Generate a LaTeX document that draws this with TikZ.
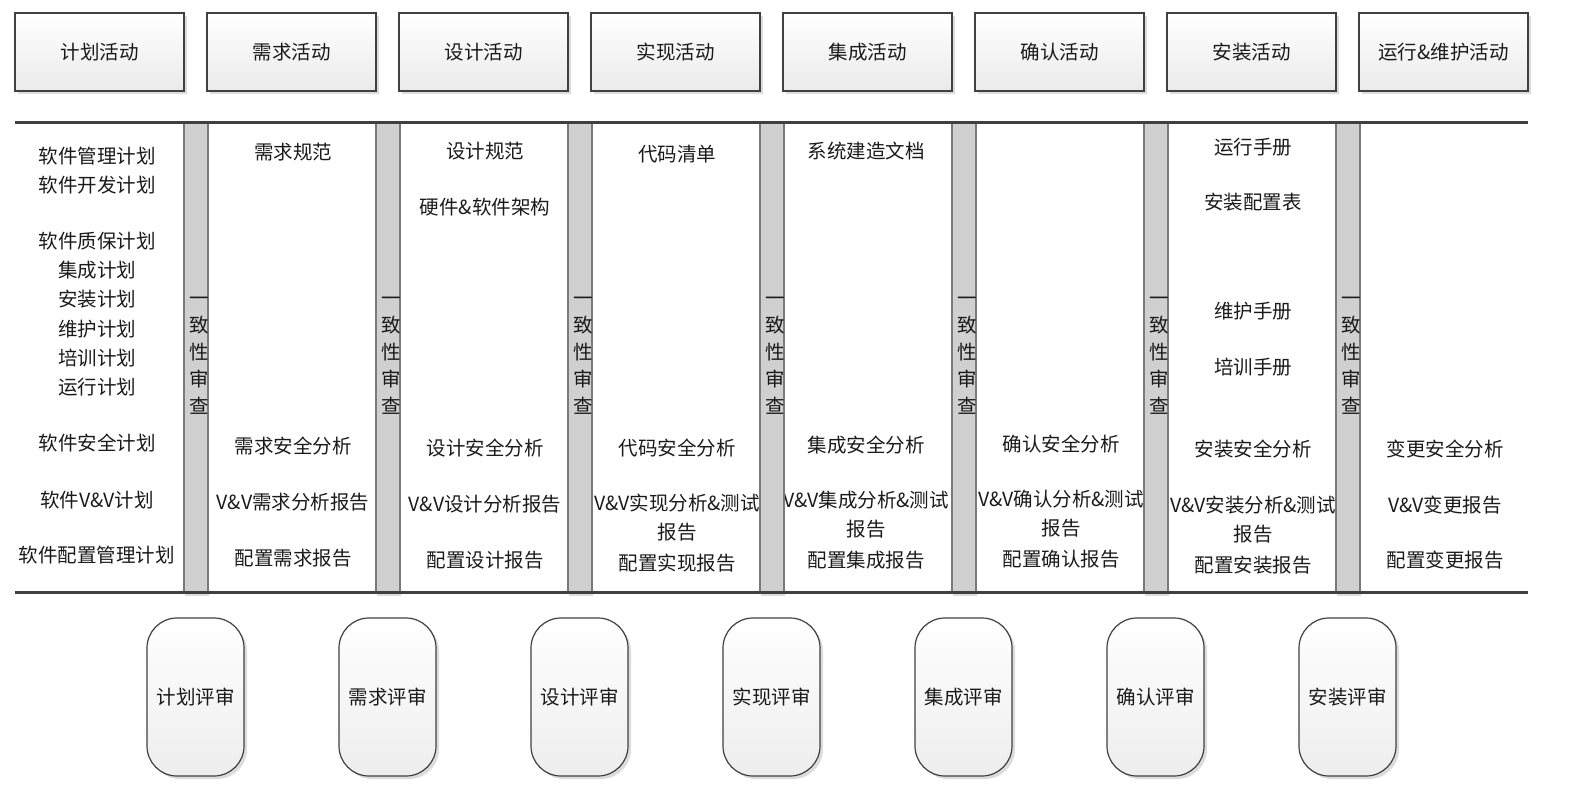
\documentclass[tikz,border=0pt]{standalone}
\usepackage{fontspec}
\setmainfont{Noto Sans CJK SC}
\usetikzlibrary{shadows}
\definecolor{linec}{HTML}{404040}
\definecolor{barfill}{HTML}{D0D0D0}
\definecolor{baredge}{HTML}{7A7A7A}
\definecolor{textc}{HTML}{1A1A1A}
\definecolor{shadowc}{HTML}{DCDCDC}
\newcommand\myfnt{\fontsize{19.5pt}{29pt}\selectfont}
\newcommand\myvfnt{\fontsize{19.5pt}{27pt}\selectfont}
\begin{document}
\begin{tikzpicture}[x=1pt,y=-1pt,
  actbox/.style={draw=linec, line width=1.2pt, top color=white, bottom color=gray!16,
    minimum width=169pt, minimum height=78pt, inner sep=0pt, font=\myfnt, text=textc,
    drop shadow={shadow xshift=3pt, shadow yshift=-3pt, fill=shadowc, opacity=1}},
  revbox/.style={draw=linec, line width=1.2pt, rounded corners=30pt, top color=white, bottom color=gray!14,
    minimum width=97pt, minimum height=158pt, inner sep=0pt, font=\myfnt, text=textc,
    drop shadow={shadow xshift=3pt, shadow yshift=-3pt, fill=shadowc, opacity=1}},
  barbox/.style={draw=baredge, line width=1.2pt, fill=barfill, minimum width=24pt,
    minimum height=469pt, inner sep=0pt,
    drop shadow={shadow xshift=1pt, shadow yshift=-4pt, fill=shadowc, opacity=1}},
  vtxt/.style={font=\myvfnt, text=textc, inner sep=0pt, align=center},
  lbl/.style={font=\myfnt, text=textc, inner sep=0pt, align=center},
  mainline/.style={draw=linec, line width=3pt}
]
\useasboundingbox (0,0) rectangle (1571,790);

% ---- top activity boxes ----
\node[actbox] (a1) at (99.5,52) {计划活动};
\node[actbox] (a2) at (291.5,52) {需求活动};
\node[actbox] (a3) at (483.5,52) {设计活动};
\node[actbox] (a4) at (675.5,52) {实现活动};
\node[actbox] (a5) at (867.5,52) {集成活动};
\node[actbox] (a6) at (1059.5,52) {确认活动};
\node[actbox] (a7) at (1251.5,52) {安装活动};
\node[actbox] (a8) at (1443.5,52) {运行\&维护活动};

% ---- column 1 ----
\node[lbl] (c1a) at (97,156) {软件管理计划};
\node[lbl] (c1b) at (97,185) {软件开发计划};
\node[lbl] (c1c) at (97,241) {软件质保计划};
\node[lbl] (c1d) at (97,270) {集成计划};
\node[lbl] (c1e) at (97,299) {安装计划};
\node[lbl] (c1f) at (97,329) {维护计划};
\node[lbl] (c1g) at (97,358) {培训计划};
\node[lbl] (c1h) at (97,387) {运行计划};
\node[lbl] (c1i) at (97,443) {软件安全计划};
\node[lbl] (c1j) at (97,500) {软件V\&V计划};
\node[lbl] (c1k) at (97,555) {软件配置管理计划};

% ---- column 2 ----
\node[lbl] (c2a) at (293,152) {需求规范};
\node[lbl] (c2b) at (293,446) {需求安全分析};
\node[lbl] (c2c) at (293,502) {V\&V需求分析报告};
\node[lbl] (c2d) at (293,558) {配置需求报告};

% ---- column 3 ----
\node[lbl] (c3a) at (485,151) {设计规范};
\node[lbl] (c3b) at (485,207) {硬件\&软件架构};
\node[lbl] (c3c) at (485,448) {设计安全分析};
\node[lbl] (c3d) at (485,504) {V\&V设计分析报告};
\node[lbl] (c3e) at (485,560) {配置设计报告};

% ---- column 4 ----
\node[lbl] (c4a) at (677,154) {代码清单};
\node[lbl] (c4b) at (677,448) {代码安全分析};
\node[lbl] (c4c) at (677,518) {V\&V实现分析\&测试\\报告};
\node[lbl] (c4d) at (677,563) {配置实现报告};

% ---- column 5 ----
\node[lbl] (c5a) at (866,151) {系统建造文档};
\node[lbl] (c5b) at (866,445) {集成安全分析};
\node[lbl] (c5c) at (866,515) {V\&V集成分析\&测试\\报告};
\node[lbl] (c5d) at (866,560) {配置集成报告};

% ---- column 6 ----
\node[lbl] (c6b) at (1061,444) {确认安全分析};
\node[lbl] (c6c) at (1061,513.5) {V\&V确认分析\&测试\\报告};
\node[lbl] (c6d) at (1061,559) {配置确认报告};

% ---- column 7 ----
\node[lbl] (c7a) at (1253,147) {运行手册};
\node[lbl] (c7b) at (1253,202) {安装配置表};
\node[lbl] (c7c) at (1253,311) {维护手册};
\node[lbl] (c7d) at (1253,367) {培训手册};
\node[lbl] (c7e) at (1253,449) {安装安全分析};
\node[lbl] (c7f) at (1253,520) {V\&V安装分析\&测试\\报告};
\node[lbl] (c7g) at (1253,565) {配置安装报告};

% ---- column 8 ----
\node[lbl] (c8b) at (1445,449) {变更安全分析};
\node[lbl] (c8c) at (1445,505) {V\&V变更报告};
\node[lbl] (c8d) at (1445,560) {配置变更报告};

% ---- consistency review bars ----
\foreach \i/\x in {1/196,2/388,3/580,4/772,5/964,6/1156,7/1348}{
  \node[barbox] (b\i) at (\x,357) {};
  \node[vtxt] (v\i) at (\x+3,356) {一\\致\\性\\审\\查};
}

% ---- horizontal rules ----
\coordinate (tl) at (15,122.5);
\coordinate (tr) at (1528,122.5);
\coordinate (bl) at (15,592);
\coordinate (br) at (1528,592);
\draw[mainline] (tl) -- (tr);
\draw[mainline] (bl) -- (br);

% ---- review boxes ----
\node[revbox] (r1) at (195.5,697) {计划评审};
\node[revbox] (r2) at (387.5,697) {需求评审};
\node[revbox] (r3) at (579.5,697) {设计评审};
\node[revbox] (r4) at (771.5,697) {实现评审};
\node[revbox] (r5) at (963.5,697) {集成评审};
\node[revbox] (r6) at (1155.5,697) {确认评审};
\node[revbox] (r7) at (1347.5,697) {安装评审};
\end{tikzpicture}
\end{document}
